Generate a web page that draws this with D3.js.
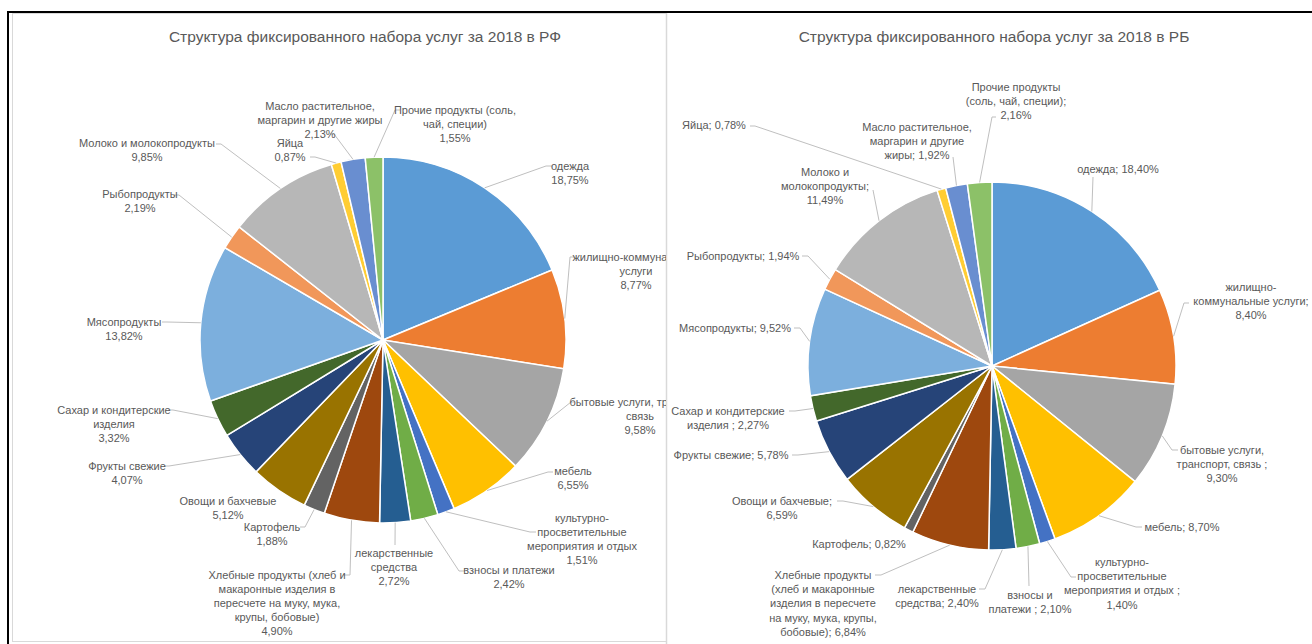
<!DOCTYPE html>
<html>
<head>
<meta charset="utf-8">
<script src="https://cdn.jsdelivr.net/npm/d3@7"></script>
<style>
  body { margin: 0; background: #fff; }
  text { font-family: "Liberation Sans", Arial, sans-serif; fill: #595959; }
</style>
</head>
<body>
<svg id="chart" width="1312" height="644"></svg>
<script>
// categories, clockwise from 12 o'clock
const categories = [
  "одежда", "жилищно-коммунальные услуги", "бытовые услуги, транспорт, связь", "мебель",
  "культурно-просветительные мероприятия и отдых", "взносы и платежи", "лекарственные средства",
  "Хлебные продукты", "Картофель", "Овощи и бахчевые", "Фрукты свежие",
  "Сахар и кондитерские изделия", "Мясопродукты", "Рыбопродукты", "Молоко и молокопродукты",
  "Яйца", "Масло растительное, маргарин и другие жиры", "Прочие продукты (соль, чай, специи)"
];
const valuesRF = [18.75, 8.77, 9.58, 6.55, 1.51, 2.42, 2.72, 4.90, 1.88, 5.12, 4.07, 3.32, 13.82, 2.19, 9.85, 0.87, 2.13, 1.55];
const valuesRB = [18.40, 8.40, 9.30, 8.70, 1.40, 2.10, 2.40, 6.84, 0.82, 6.59, 5.78, 2.27, 9.52, 1.94, 11.49, 0.78, 1.92, 2.16];

// label text lines, {v} = value
const labelsRF = [
  ["одежда", "{v}"],
  ["жилищно-коммунальные", "услуги", "{v}"],
  ["бытовые услуги, транспорт,", "связь", "{v}"],
  ["мебель", "{v}"],
  ["культурно-", "просветительные", "мероприятия и отдых", "{v}"],
  ["взносы и платежи", "{v}"],
  ["лекарственные", "средства", "{v}"],
  ["Хлебные продукты (хлеб и", "макаронные изделия в", "пересчете на муку, мука,", "крупы, бобовые)", "{v}"],
  ["Картофель", "{v}"],
  ["Овощи и бахчевые", "{v}"],
  ["Фрукты свежие", "{v}"],
  ["Сахар и кондитерские", "изделия", "{v}"],
  ["Мясопродукты", "{v}"],
  ["Рыбопродукты", "{v}"],
  ["Молоко и молокопродукты", "{v}"],
  ["Яйца", "{v}"],
  ["Масло растительное,", "маргарин и другие жиры", "{v}"],
  ["Прочие продукты (соль,", "чай, специи)", "{v}"]
];
const labelsRB = [
  ["одежда; {v}"],
  ["жилищно-", "коммунальные услуги;", "{v}"],
  ["бытовые услуги,", "транспорт, связь ;", "{v}"],
  ["мебель; {v}"],
  ["культурно-", "просветительные", "мероприятия и отдых ;", "{v}"],
  ["взносы и", "платежи ; {v}"],
  ["лекарственные", "средства; {v}"],
  ["Хлебные продукты", "(хлеб и макаронные", "изделия в пересчете", "на муку, мука, крупы,", "бобовые); {v}"],
  ["Картофель; {v}"],
  ["Овощи и бахчевые;", "{v}"],
  ["Фрукты свежие; {v}"],
  ["Сахар и кондитерские", "изделия ; {v}"],
  ["Мясопродукты; {v}"],
  ["Рыбопродукты; {v}"],
  ["Молоко и", "молокопродукты;", "{v}"],
  ["Яйца; {v}"],
  ["Масло растительное,", "маргарин и другие", "жиры; {v}"],
  ["Прочие продукты", "(соль, чай, специи);", "{v}"]
];

const colors = ["#5B9BD5", "#ED7D31", "#A5A5A5", "#FFC000", "#4472C4", "#70AD47", "#255E91", "#9E480E", "#636363",
  "#997300", "#264478", "#43682B", "#7CAFDD", "#F1975A", "#B7B7B7", "#FFCD33", "#698ED0", "#8CC168"];

// label placement: [centre x, first line y, leader end x, leader end y, stub]
const placeRF = [
  [570, 166, 552, 166, -6], [636, 257, 574, 257, -4], [640, 402, 574, 402, -3], [573, 471, 553, 472, -5],
  [582, 518, 536, 532, -6], [509, 570, 465, 571, -6], [394, 553, 395, 545, 0], [277, 575, 344, 575, 6],
  [272, 527, 300, 527, 5], [228, 501, null], [127, 466, 164, 466, 5], [114, 410, 168, 410, 5],
  [124, 322, 162, 322, 5], [140, 194, 174, 195, 5], [147, 143, 216, 144, 5], [290, 143, 310, 157, 5],
  [320, 106, 330, 134, 4], [455, 110, 400, 110, -5]
];
const placeRB = [
  [1118, 169, 1093, 177, 0], [1251, 287, 1189, 303, -5], [1222, 450, 1178, 450, -6], [1182, 527, 1142, 527, -6],
  [1122, 562, 1076, 577, -5], [1030, 595, 1029, 586, 0], [937, 589, 979, 589, 6], [823, 575, 875, 575, 6],
  [859, 544, null], [782, 501, 837, 501, 6], [731, 455, 792, 455, 6], [728, 411, 789, 411, 6],
  [735, 328, 794, 328, 6], [743, 256, 802, 256, 6], [825, 172, 873, 190, 0], [714, 125, 750, 126, 5],
  [917, 127, 953, 157, 0], [1016, 87, 996, 117, -4]
];

const fmt = v => d3.format(".2f")(v).replace(".", ",") + "%";
const svg = d3.select("#chart");

// frames
svg.append("rect")
  .attr("x", 12.5).attr("y", 13.5).attr("width", 654).attr("height", 628)
  .attr("fill", "none").attr("stroke", "#d9d9d9");
svg.append("line").attr("x1", 666.5).attr("x2", 666.5).attr("y1", 13).attr("y2", 644)
  .attr("stroke", "#d9d9d9").attr("stroke-width", 1.5);
svg.append("line").attr("x1", 8).attr("x2", 1312).attr("y1", 12).attr("y2", 12)
  .attr("stroke", "#000").attr("stroke-width", 2);
svg.append("line").attr("x1", 8).attr("x2", 8).attr("y1", 11).attr("y2", 644)
  .attr("stroke", "#000").attr("stroke-width", 2);

svg.append("clipPath").attr("id", "clipL")
  .append("rect").attr("x", 0).attr("y", 0).attr("width", 666).attr("height", 644);

function drawPie(opts) {
  let g = svg.append("g");
  if (opts.clip) g.attr("clip-path", "url(#" + opts.clip + ")");

  g.append("text")
    .attr("x", opts.titleX).attr("y", 37).attr("dy", "0.35em")
    .attr("text-anchor", "middle").attr("font-size", 15.5)
    .text(opts.title);

  let data = opts.values.map((v, i) => ({ name: categories[i], value: v, i }));
  let pie = d3.pie().sort(null).value(d => d.value),
      arcs = pie(data),
      arc = d3.arc().innerRadius(0).outerRadius(opts.r),
      edge = d3.arc().innerRadius(opts.r).outerRadius(opts.r);

  let pg = g.append("g").attr("transform", `translate(${opts.cx},${opts.cy})`);
  pg.selectAll("path.slice")
    .data(arcs)
    .enter().append("path")
    .classed("slice", true)
    .attr("d", arc)
    .attr("fill", d => colors[d.index])
    .attr("stroke", "#fff")
    .attr("stroke-width", 1.5);

  // leader lines
  let line = d3.line();
  g.selectAll("path.leader")
    .data(arcs.filter(d => opts.place[d.index][2] != null))
    .enter().append("path")
    .classed("leader", true)
    .attr("fill", "none")
    .attr("stroke", "#bfbfbf")
    .attr("stroke-width", 1)
    .attr("d", d => {
      let [, , ex, ey, stub] = opts.place[d.index],
          [sx, sy] = edge.centroid(d);
      return line([[opts.cx + sx, opts.cy + sy], [ex + stub, ey], [ex, ey]]);
    });

  // labels
  g.selectAll("text.lbl")
    .data(arcs)
    .enter().append("text")
    .classed("lbl", true)
    .attr("text-anchor", "middle")
    .attr("font-size", 11)
    .each(function(d) {
      let [x, y] = opts.place[d.index],
          lines = opts.labels[d.index].map(s => s.replace("{v}", fmt(d.data.value)));
      d3.select(this).selectAll("tspan")
        .data(lines)
        .enter().append("tspan")
        .attr("x", x)
        .attr("y", (s, k) => y + k * opts.lh)
        .attr("dy", "0.35em")
        .text(s => s);
    });
}

drawPie({
  title: "Структура фиксированного набора услуг за 2018 в РФ",
  titleX: 365, cx: 383, cy: 340, r: 183, lh: 14,
  values: valuesRF, labels: labelsRF, place: placeRF, clip: "clipL"
});
drawPie({
  title: "Структура фиксированного набора услуг за 2018 в РБ",
  titleX: 994, cx: 992, cy: 366, r: 184, lh: 14.3,
  values: valuesRB, labels: labelsRB, place: placeRB
});
</script>
</body>
</html>
